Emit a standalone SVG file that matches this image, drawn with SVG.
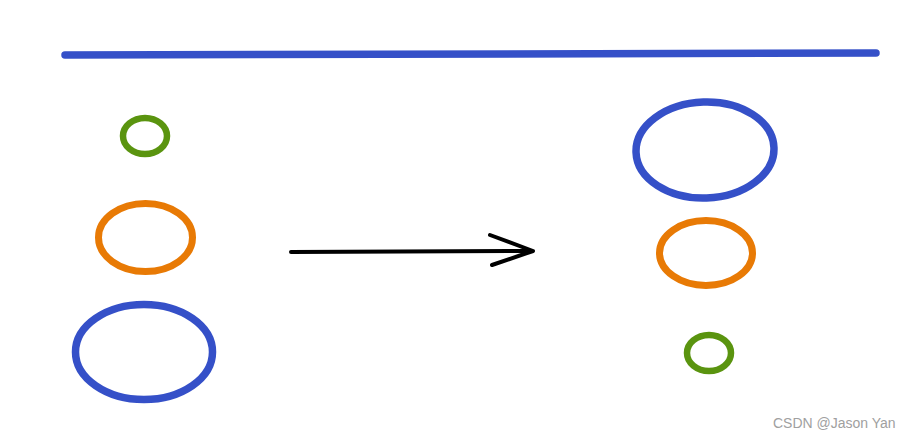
<svg xmlns="http://www.w3.org/2000/svg" width="910" height="439" viewBox="0 0 910 439">
<style>
.s{fill:none;stroke-linecap:round;stroke-linejoin:round}
.b{stroke:#3550c8;stroke-width:7.5}
.o{stroke:#e87a05;stroke-width:7}
.g{stroke:#5a940f;stroke-width:6.5}
.k{stroke:#000;stroke-width:4}
text{font-family:"Liberation Sans",Arial,sans-serif;font-size:14px;fill:#a0a0a0}
</style>
<rect width="910" height="439" fill="#fff"/>
<g id="topline"><path class="s b" d="M65,55 L876,53"/></g>
<g id="left-green"><ellipse class="s g" cx="145" cy="136" rx="22" ry="18"/></g>
<g id="left-orange"><ellipse class="s o" cx="145.5" cy="237.5" rx="47" ry="34"/></g>
<g id="left-blue"><ellipse class="s b" cx="144" cy="352" rx="68.5" ry="47.5"/></g>
<g id="right-blue"><ellipse class="s b" cx="705" cy="150" rx="69" ry="48" transform="rotate(-2 705 150)"/></g>
<g id="right-orange"><ellipse class="s o" cx="706" cy="253" rx="46.5" ry="32.5"/></g>
<g id="right-green"><ellipse class="s g" cx="709" cy="353" rx="22" ry="18"/></g>
<g id="connectors">
<path class="s k" d="M291,252 L533,251 M490,235 L533,251 L492,265"/>
</g>
<text x="773" y="428">CSDN @Jason Yan</text>
</svg>
